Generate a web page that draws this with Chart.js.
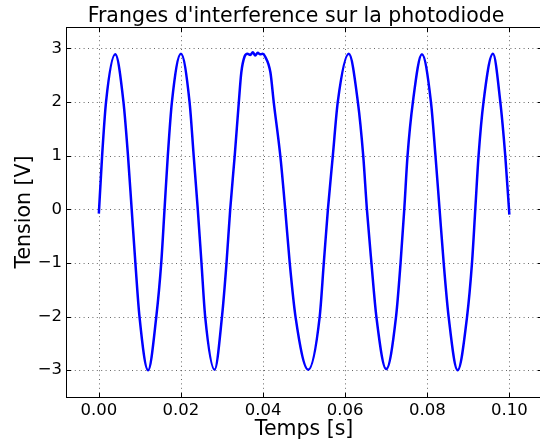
<!DOCTYPE html>
<html><head><meta charset="utf-8">
<script src="https://cdn.jsdelivr.net/npm/chart.js@4"></script>
<style>
html,body{margin:0;padding:0;overflow:hidden;background:#fff;width:540px;height:445px}
#wrap{position:absolute;left:0;top:0;width:560px;height:445px}
</style>
</head><body><div id="wrap"><canvas id="c" width="560" height="445"></canvas></div>
<script>
const times = [0.0000, 0.0008, 0.00175, 0.0040, 0.0060, 0.0071, 0.0080, 0.0089, 0.0099, 0.0120,
  0.0140, 0.0152, 0.0160, 0.0168, 0.0178, 0.0200, 0.0221, 0.0231, 0.0241, 0.0250,
  0.0259, 0.0282, 0.0300, 0.0311, 0.0320, 0.0331, 0.0341, 0.0347, 0.0355, 0.0362,
  0.0369, 0.0375, 0.0381, 0.0387, 0.0393, 0.0399, 0.0405, 0.0418, 0.0426, 0.0442,
  0.0454, 0.0465, 0.0479, 0.0510, 0.0538, 0.0548, 0.0558, 0.0570, 0.0582, 0.0609,
  0.0631, 0.0644, 0.0653, 0.0664, 0.0676, 0.0700, 0.0724, 0.0735, 0.0744, 0.0752,
  0.0765, 0.0787, 0.0809, 0.0820, 0.0830, 0.0840, 0.0852, 0.0874, 0.0897, 0.0909,
  0.0917, 0.0925, 0.0937, 0.0960, 0.0978, 0.0990, 0.1000];
const volts = [-0.08, 1.0, 2.0, 2.89, 2.0, 1.0, 0.0, -1.0, -2.0, -3.0,
  -2.0, -1.0, 0.0, 1.0, 2.0, 2.9, 2.0, 1.0, 0.0, -1.0,
  -2.0, -2.99, -2.0, -1.0, 0.0, 1.0, 2.0, 2.55, 2.85, 2.9,
  2.88, 2.93, 2.87, 2.92, 2.89, 2.9, 2.85, 2.55, 2.0, 1.0,
  0.0, -1.0, -2.0, -2.99, -2.0, -1.0, 0.0, 1.0, 2.0, 2.9,
  2.0, 1.0, 0.0, -1.0, -2.0, -2.98, -2.0, -1.0, 0.0, 1.0,
  2.0, 2.89, 2.0, 1.0, 0.0, -1.0, -2.0, -3.0, -2.0, -1.0,
  0.0, 1.0, 2.0, 2.9, 2.0, 1.0, -0.1];
const xTicks = [0.00, 0.02, 0.04, 0.06, 0.08, 0.10];
const xTickLabels = ['0.00', '0.02', '0.04', '0.06', '0.08', '0.10'];
const yTicks = [-3, -2, -1, 0, 1, 2, 3];
const yTickLabels = ['\u22123', '\u22122', '\u22121', '0', '1', '2', '3'];
const titleText = "Franges d'interference sur la photodiode";
const xLabel = 'Temps [s]';
const yLabel = 'Tension [V]';

const FONT = 'DejaVu Sans';

const framePlugin = {
  id: 'frame',
  beforeDatasetsDraw(chart) {
    const {ctx, chartArea: a, scales: {x, y}} = chart;
    ctx.save();
    ctx.strokeStyle = 'rgba(0,0,0,0.6)';
    ctx.lineWidth = 1;
    ctx.setLineDash([1, 3.4]);
    xTicks.forEach(v => {
      const px = Math.round(x.getPixelForValue(v)) + 0.5;
      ctx.beginPath(); ctx.moveTo(px, a.top); ctx.lineTo(px, a.bottom); ctx.stroke();
    });
    yTicks.forEach(v => {
      const py = Math.round(y.getPixelForValue(v)) + 0.5;
      ctx.beginPath(); ctx.moveTo(a.left, py); ctx.lineTo(a.right, py); ctx.stroke();
    });
    ctx.restore();
  },
  afterDatasetsDraw(chart) {
    const {ctx, chartArea: a, scales: {x, y}} = chart;
    ctx.save();
    ctx.strokeStyle = '#000';
    ctx.lineWidth = 1;
    ctx.setLineDash([]);
    const L = Math.round(a.left) + 0.5, T = Math.round(a.top) + 0.5;
    const R = Math.round(a.right) + 0.5, B = Math.round(a.bottom) + 0.5;
    ctx.strokeRect(L, T, R - L, B - T);
    xTicks.forEach(v => {
      const px = Math.round(x.getPixelForValue(v)) + 0.5;
      ctx.beginPath(); ctx.moveTo(px, B); ctx.lineTo(px, B - 4.5); ctx.stroke();
      ctx.beginPath(); ctx.moveTo(px, T); ctx.lineTo(px, T + 4.5); ctx.stroke();
    });
    yTicks.forEach(v => {
      const py = Math.round(y.getPixelForValue(v)) + 0.5;
      ctx.beginPath(); ctx.moveTo(L, py); ctx.lineTo(L + 4.5, py); ctx.stroke();
      ctx.beginPath(); ctx.moveTo(R, py); ctx.lineTo(R - 4.5, py); ctx.stroke();
    });
    // title
    ctx.fillStyle = '#000';
    ctx.font = '20.5px "' + FONT + '"';
    ctx.textAlign = 'center';
    ctx.textBaseline = 'alphabetic';
    ctx.fillText(titleText, 296, 22);
    ctx.restore();
  }
};

new Chart(document.getElementById('c'), {
  type: 'line',
  data: {
    datasets: [{
      data: times.map((t, i) => ({x: t, y: volts[i]})),
      borderColor: '#0000ff',
      borderWidth: 2.5,
      pointRadius: 0,
      fill: false,
      cubicInterpolationMode: 'monotone'
    }]
  },
  options: {
    responsive: false,
    animation: false,
    devicePixelRatio: 1,
    layout: {padding: {left: 0, top: 27, right: 17.8, bottom: 0}},
    plugins: {
      legend: {display: false},
      tooltip: {enabled: false},
      title: {display: false}
    },
    scales: {
      x: {
        type: 'linear', min: -0.008, max: 0.108,
        afterFit(s) { s.height = 48; },
        afterBuildTicks(s) { s.ticks = xTicks.map(v => ({value: v})); },
        grid: {display: false, drawTicks: false},
        border: {display: false},
        ticks: {
          color: '#000', padding: 4, maxRotation: 0, autoSkip: false,
          font: {family: FONT, size: 16.5},
          callback: (v) => { const i = xTicks.indexOf(v); return i >= 0 ? xTickLabels[i] : ''; }
        },
        title: {
          display: true, text: xLabel, color: '#000',
          font: {family: FONT, size: 20.5}, padding: {top: 0, bottom: 3}
        }
      },
      y: {
        type: 'linear', min: -3.5, max: 3.4,
        afterFit(s) { s.width = 66; },
        afterBuildTicks(s) { s.ticks = yTicks.map(v => ({value: v})); },
        grid: {display: false, drawTicks: false},
        border: {display: false},
        ticks: {
          color: '#000', padding: 4, autoSkip: false,
          font: {family: FONT, size: 16.5},
          callback: (v) => { const i = yTicks.indexOf(v); return i >= 0 ? yTickLabels[i] : ''; }
        },
        title: {
          display: true, text: yLabel, color: '#000',
          font: {family: FONT, size: 20.5}, padding: {top: 12, bottom: 0}
        }
      }
    }
  },
  plugins: [framePlugin]
});
</script>
</body></html>
